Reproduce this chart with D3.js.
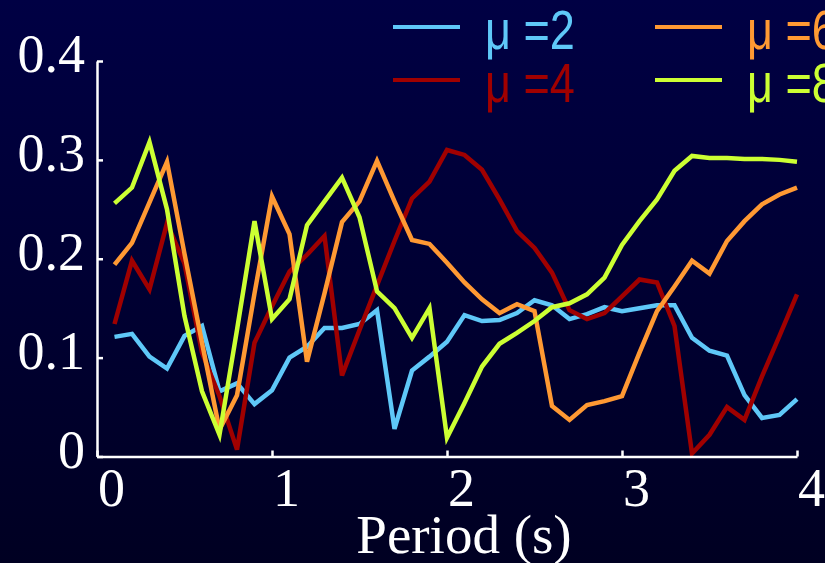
<!DOCTYPE html>
<html>
<head>
<meta charset="utf-8">
<script src="https://cdn.jsdelivr.net/npm/d3@7"></script>
<style>
  html, body { margin: 0; padding: 0; background: #000030; }
  #vis-chart { width: 825px; height: 563px; }
  .axis path, .axis line { stroke: #fff; stroke-width: 2.5px; }
  .axis text { fill: #fff; font-family: "Liberation Serif", "Times New Roman", serif; font-size: 54px; }
  .legend text { font-family: "Liberation Sans", Arial, sans-serif; font-size: 55px; }
</style>
</head>
<body>
<div id="vis-chart"></div>
<script>
const periods = [
  0.1, 0.2, 0.3, 0.4, 0.5, 0.6, 0.7, 0.8, 0.9, 1.0,
  1.1, 1.2, 1.3, 1.4, 1.5, 1.6, 1.7, 1.8, 1.9, 2.0,
  2.1, 2.2, 2.3, 2.4, 2.5, 2.6, 2.7, 2.8, 2.9, 3.0,
  3.1, 3.2, 3.3, 3.4, 3.5, 3.6, 3.7, 3.8, 3.9, 4.0,
];

const mu2 = [
  0.121, 0.124, 0.101, 0.089, 0.122, 0.132, 0.066, 0.074, 0.053, 0.067,
  0.100, 0.111, 0.130, 0.130, 0.134, 0.148, 0.028, 0.087, 0.101, 0.116,
  0.143, 0.137, 0.138, 0.145, 0.158, 0.153, 0.139, 0.144, 0.151, 0.147,
  0.150, 0.153, 0.153, 0.120, 0.107, 0.102, 0.062, 0.039, 0.042, 0.058,
];

const mu4 = [
  0.134, 0.198, 0.169, 0.236, 0.195, 0.105, 0.061, 0.007, 0.115, 0.152,
  0.187, 0.204, 0.223, 0.082, 0.128, 0.173, 0.218, 0.261, 0.278, 0.310,
  0.305, 0.290, 0.260, 0.228, 0.211, 0.186, 0.148, 0.139, 0.145, 0.162,
  0.179, 0.176, 0.132, 0.003, 0.022, 0.050, 0.037, 0.081, 0.122, 0.164,
];

const mu6 = [
  0.194, 0.216, 0.257, 0.298, 0.205, 0.115, 0.027, 0.062, 0.165, 0.263,
  0.225, 0.096, 0.165, 0.237, 0.258, 0.299, 0.258, 0.219, 0.215, 0.196,
  0.176, 0.159, 0.145, 0.154, 0.147, 0.051, 0.037, 0.052, 0.056, 0.061,
  0.105, 0.147, 0.172, 0.198, 0.185, 0.218, 0.238, 0.255, 0.265, 0.272,
];

const mu8 = [
  0.256, 0.272, 0.318, 0.250, 0.142, 0.066, 0.022, 0.128, 0.238, 0.139,
  0.159, 0.234, 0.258, 0.282, 0.242, 0.167, 0.150, 0.120, 0.150, 0.019,
  0.054, 0.091, 0.114, 0.125, 0.137, 0.151, 0.155, 0.164, 0.181, 0.214,
  0.238, 0.260, 0.289, 0.304, 0.302, 0.302, 0.301, 0.301, 0.300, 0.298,
];

const seriesNames = ["μ =2", "μ =4", "μ =6", "μ =8"];
const xTicks = [0, 1, 2, 3, 4];
const yTicks = [0, 0.1, 0.2, 0.3, 0.4];
const xLabel = "Period (s)";

class VisChart {
  constructor({ container, series }) {
    this.container = d3.select(container);
    this.series = series;
    this.init();
  }

  init() {
    this.width = 825;
    this.height = 563;
    this.margin = { top: 61, right: 28, bottom: 106.5, left: 97 };

    this.colors = ["#5fc8f8", "#a00000", "#ff9933", "#ccff33"];

    this.x = d3
      .scaleLinear()
      .domain([0, 4])
      .range([this.margin.left, this.width - this.margin.right]);
    this.y = d3
      .scaleLinear()
      .domain([0, 0.4])
      .range([this.height - this.margin.bottom, this.margin.top]);

    this.svg = this.container
      .append("svg")
      .attr("width", this.width)
      .attr("height", this.height)
      .attr("viewBox", [0, 0, this.width, this.height]);

    const grad = this.svg
      .append("defs")
      .append("linearGradient")
      .attr("id", "bg")
      .attr("x1", 0)
      .attr("y1", 0)
      .attr("x2", 0)
      .attr("y2", 1);
    grad.append("stop").attr("offset", "0%").attr("stop-color", "#000044");
    grad.append("stop").attr("offset", "100%").attr("stop-color", "#000022");

    this.svg
      .append("rect")
      .attr("width", this.width)
      .attr("height", this.height)
      .attr("fill", "url(#bg)");

    this.render();
  }

  render() {
    const line = d3
      .line()
      .x((d) => this.x(d[0]))
      .y((d) => this.y(d[1]));

    this.svg
      .append("g")
      .attr("class", "lines")
      .selectAll("path")
      .data(this.series)
      .join("path")
      .attr("fill", "none")
      .attr("stroke", (d, i) => this.colors[i])
      .attr("stroke-width", 4.5)
      .attr("stroke-linejoin", "miter")
      .attr("d", (d) => line(d3.zip(periods, d.values)));

    // axes: ticks point inward, labels nudged like the original
    const xAxis = this.svg
      .append("g")
      .attr("class", "axis x-axis")
      .attr("transform", `translate(0,${this.y(0)})`)
      .call(
        d3
          .axisBottom(this.x)
          .tickValues(xTicks)
          .tickFormat(d3.format("d"))
          .tickSizeInner(-6)
          .tickSizeOuter(0)
          .tickPadding(11)
      );
    xAxis.selectAll("text").attr("dx", 14);

    const yAxis = this.svg
      .append("g")
      .attr("class", "axis y-axis")
      .attr("transform", `translate(${this.x(0)},0)`)
      .call(
        d3
          .axisLeft(this.y)
          .tickValues(yTicks)
          .tickFormat((d) => (d === 0 ? "0" : d3.format(".1f")(d)))
          .tickSizeInner(-6)
          .tickSizeOuter(0)
          .tickPadding(12)
      );
    yAxis.selectAll("text").attr("dy", "0.2em");

    this.svg
      .append("text")
      .attr("class", "axis-title")
      .attr("x", 464)
      .attr("y", 553)
      .attr("text-anchor", "middle")
      .attr("fill", "#fff")
      .style("font-family", '"Liberation Serif", "Times New Roman", serif')
      .style("font-size", "55px")
      .text(xLabel);

    // legend, two columns of two; text squeezed to look condensed
    const legend = this.svg
      .append("g")
      .attr("class", "legend")
      .selectAll("g")
      .data(this.series)
      .join("g")
      .attr(
        "transform",
        (d, i) => `translate(${393 + Math.floor(i / 2) * 262},${27 + (i % 2) * 53})`
      );
    legend
      .append("line")
      .attr("x1", 0)
      .attr("x2", 67)
      .attr("stroke", (d, i) => this.colors[i])
      .attr("stroke-width", 4);
    legend
      .append("text")
      .attr("transform", "translate(92,22) scale(0.82,1)")
      .attr("fill", (d, i) => this.colors[i])
      .text((d) => d.name);
  }
}

new VisChart({
  container: "#vis-chart",
  series: [mu2, mu4, mu6, mu8].map((values, i) => ({
    name: seriesNames[i],
    values,
  })),
});
</script>
</body>
</html>
